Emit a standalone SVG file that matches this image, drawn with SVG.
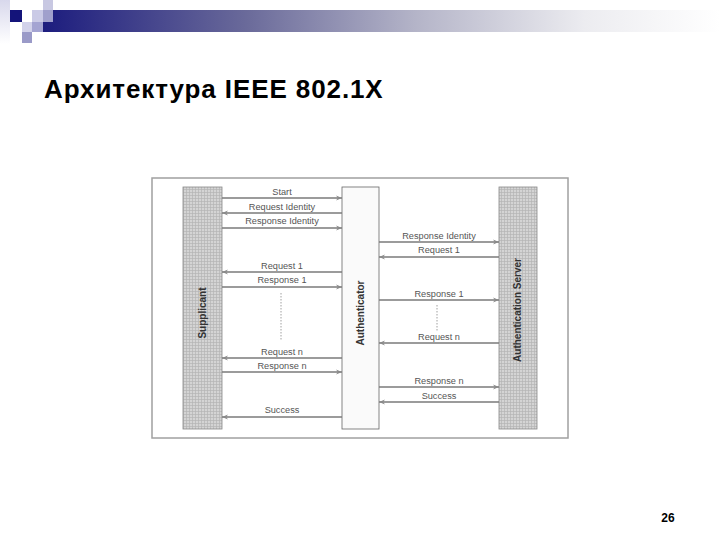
<svg xmlns="http://www.w3.org/2000/svg" width="720" height="540" viewBox="0 0 720 540">
<defs>
<linearGradient id="bar" x1="0" y1="0" x2="1" y2="0">
<stop offset="0" stop-color="#1c1c7e"/>
<stop offset="0.3" stop-color="#6a6a9a"/>
<stop offset="0.55" stop-color="#b4b4c8"/>
<stop offset="0.8" stop-color="#ececf0"/>
<stop offset="1" stop-color="#ffffff"/>
</linearGradient>
<linearGradient id="side" x1="0" y1="0" x2="0" y2="1">
<stop offset="0" stop-color="#d8d8ec"/>
<stop offset="1" stop-color="#ffffff"/>
</linearGradient>
<pattern id="grid" width="3" height="3" patternUnits="userSpaceOnUse">
<rect width="3" height="3" fill="#d4d4d4"/>
<path d="M0 0.5H3M0.5 0V3" stroke="#b4b4b4" stroke-width="0.7"/>
</pattern>
<marker id="ah" viewBox="0 0 10 10" refX="10" refY="5" markerWidth="8" markerHeight="6" orient="auto" markerUnits="userSpaceOnUse">
<path d="M0 1L10 5L0 9L3 5Z" fill="#8a8a8a"/>
</marker>
<style>
.msg{font-family:"Liberation Sans",Arial,sans-serif;font-size:9.2px;fill:#555;text-anchor:middle}
.lbl{font-family:"Liberation Sans",Arial,sans-serif;font-size:10px;font-weight:bold;fill:#333;text-anchor:middle}
.ln{stroke:#7a7a7a;stroke-width:1.4;fill:none;marker-end:url(#ah)}
.dot{stroke:#888;stroke-width:0.8;stroke-dasharray:1.5 1.5;fill:none}
</style>
</defs>
<rect width="720" height="540" fill="#ffffff"/>
<g id="header">
<rect x="0" y="0" width="10" height="44" fill="url(#side)"/>
<rect x="43" y="10" width="677" height="22" fill="url(#bar)"/>
<rect x="10" y="10" width="12" height="12" fill="#14147a"/>
<rect x="43" y="0" width="10" height="10" fill="#c8c8e2"/>
<rect x="32" y="10" width="11" height="12" fill="#cacae6"/>
<rect x="43" y="10" width="10" height="12" fill="#a0a0cc"/>
<rect x="22" y="22" width="10" height="10" fill="#d2d2ea"/>
<rect x="32" y="22" width="11" height="10" fill="#a4a4d2"/>
<rect x="22" y="32" width="10" height="11" fill="#9a9ac8"/>
</g>
<text x="44" y="98" font-family="Liberation Sans,Arial,sans-serif" font-size="26" font-weight="bold" letter-spacing="0.9" fill="#000">Архитектура IEEE 802.1X</text>
<text x="668" y="522" font-family="Liberation Sans,Arial,sans-serif" font-size="12" font-weight="bold" fill="#000" text-anchor="middle">26</text>
<rect x="152" y="178" width="416" height="260" fill="#ffffff" stroke="#a0a0a0" stroke-width="1.5"/>
<g id="supplicant">
<rect x="183" y="187" width="39" height="242" fill="url(#grid)" stroke="#888" stroke-width="0.8"/>
<text class="lbl" transform="translate(206,313) rotate(-90)">Supplicant</text>
</g>
<g id="authenticator">
<rect x="342" y="187" width="37" height="242" fill="#fafafa" stroke="#666" stroke-width="0.8"/>
<text class="lbl" transform="translate(364,313) rotate(-90)">Authenticator</text>
</g>
<g id="authserver">
<rect x="499" y="187" width="38" height="242" fill="url(#grid)" stroke="#888" stroke-width="0.8"/>
<text class="lbl" transform="translate(521,310) rotate(-90)">Authentication Server</text>
</g>
<g id="connectors">
<line class="ln" x1="222" y1="198" x2="342" y2="198"/>
<line class="ln" x1="342" y1="213" x2="222" y2="213"/>
<line class="ln" x1="222" y1="228" x2="342" y2="228"/>
<line class="ln" x1="342" y1="272" x2="222" y2="272"/>
<line class="ln" x1="222" y1="287" x2="342" y2="287"/>
<line class="ln" x1="342" y1="358" x2="222" y2="358"/>
<line class="ln" x1="222" y1="372" x2="342" y2="372"/>
<line class="ln" x1="342" y1="417" x2="222" y2="417"/>
<line class="ln" x1="379" y1="242" x2="499" y2="242"/>
<line class="ln" x1="499" y1="257" x2="379" y2="257"/>
<line class="ln" x1="379" y1="300" x2="499" y2="300"/>
<line class="ln" x1="499" y1="343" x2="379" y2="343"/>
<line class="ln" x1="379" y1="387" x2="499" y2="387"/>
<line class="ln" x1="499" y1="402" x2="379" y2="402"/>
<line class="dot" x1="281" y1="293" x2="281" y2="341"/>
<line class="dot" x1="437" y1="305" x2="437" y2="332"/>
<text class="msg" x="282" y="195">Start</text>
<text class="msg" x="282" y="210">Request Identity</text>
<text class="msg" x="282" y="224">Response Identity</text>
<text class="msg" x="282" y="269">Request 1</text>
<text class="msg" x="282" y="283">Response 1</text>
<text class="msg" x="282" y="355">Request n</text>
<text class="msg" x="282" y="369">Response n</text>
<text class="msg" x="282" y="413">Success</text>
<text class="msg" x="439" y="239">Response Identity</text>
<text class="msg" x="439" y="253">Request 1</text>
<text class="msg" x="439" y="297">Response 1</text>
<text class="msg" x="439" y="340">Request n</text>
<text class="msg" x="439" y="384">Response n</text>
<text class="msg" x="439" y="399">Success</text>
</g>
</svg>
